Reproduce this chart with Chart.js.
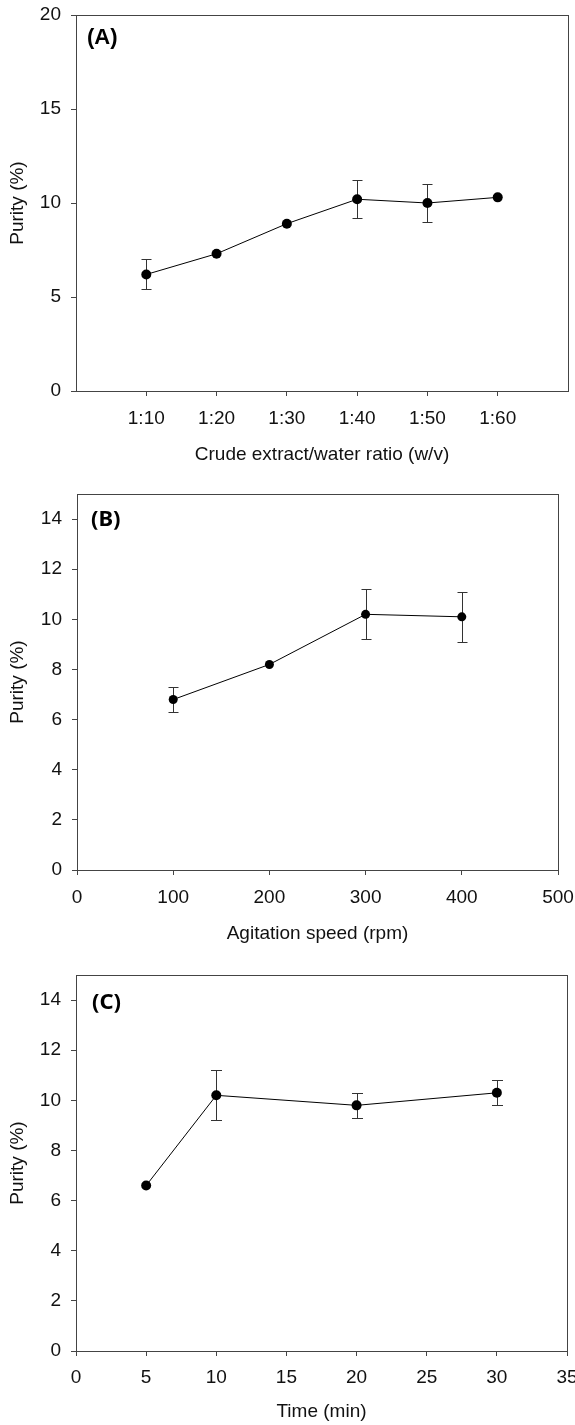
<!DOCTYPE html>
<html>
<head>
<meta charset="utf-8">
<script src="https://cdn.jsdelivr.net/npm/chart.js@4"></script>
<style>
  body { margin: 0; background: #fff; }
  canvas { position: absolute; left: 0; }
</style>
</head>
<body>
<canvas id="chartA" width="575" height="470" style="top:0px"></canvas>
<canvas id="chartB" width="575" height="490" style="top:470px"></canvas>
<canvas id="chartC" width="575" height="465" style="top:960px"></canvas>
<script>
// (A) crude extract / water ratio
const ratioLabels = ['1:10', '1:20', '1:30', '1:40', '1:50', '1:60'];
const ratioPurity = [6.2, 7.3, 8.9, 10.2, 10.0, 10.3];
const ratioErr = [0.8, 0, 0, 1.0, 1.0, 0];

// (B) agitation speed
const speedRpm = [100, 200, 300, 400];
const speedPurity = [6.8, 8.2, 10.2, 10.1];
const speedErr = [0.5, 0, 1.0, 1.0];

// (C) time
const timeMin = [5, 10, 20, 30];
const timePurity = [6.6, 10.2, 9.8, 10.3];
const timeErr = [0, 1.0, 0.5, 0.5];

// tick values
const yTicksA = [0, 5, 10, 15, 20];
const yTicksBC = [0, 2, 4, 6, 8, 10, 12, 14];
const xTicksA = [1, 2, 3, 4, 5, 6];
const xTicksB = [0, 100, 200, 300, 400, 500];
const xTicksC = [0, 5, 10, 15, 20, 25, 30, 35];

const FONT = "'Liberation Sans', Arial, sans-serif";
const AXIS = '#444';
const TEXT = '#111';

// frame, error bars and panel letter
const panelPlugin = {
  id: 'panel',
  beforeDatasetsDraw(chart, args, opts) {
    const {ctx, chartArea: a, scales: {x, y}} = chart;
    ctx.save();
    ctx.strokeStyle = AXIS;
    ctx.lineWidth = 1;
    ctx.strokeRect(a.left + 0.5, a.top + 0.5, a.right - a.left, a.bottom - a.top);

    ctx.strokeStyle = '#333';
    chart.data.datasets.forEach(ds => {
      (ds.err || []).forEach((e, i) => {
        if (!e) return;
        const p = ds.data[i];
        const px = Math.round(x.getPixelForValue(p.x)) + 0.5;
        const yt = Math.round(y.getPixelForValue(p.y + e)) + 0.5;
        const yb = Math.round(y.getPixelForValue(p.y - e)) + 0.5;
        const w = opts.cap;
        ctx.beginPath();
        ctx.moveTo(px, yt); ctx.lineTo(px, yb);
        ctx.moveTo(px - w, yt); ctx.lineTo(px + w, yt);
        ctx.moveTo(px - w, yb); ctx.lineTo(px + w, yb);
        ctx.stroke();
      });
    });

    ctx.fillStyle = '#000';
    ctx.font = opts.font;
    ctx.textBaseline = 'middle';
    ctx.textAlign = 'left';
    ctx.fillText(opts.text, a.left + opts.dx, a.top + opts.dy);
    ctx.restore();
  }
};

function makeChart(id, o) {
  const pts = o.xs.map((v, i) => ({x: v, y: o.ys[i]}));
  return new Chart(document.getElementById(id), {
    type: 'line',
    data: {
      datasets: [{
        data: pts,
        err: o.err,
        borderColor: '#000',
        borderWidth: 1,
        backgroundColor: '#000',
        pointRadius: o.r,
        pointBackgroundColor: '#000',
        pointBorderColor: '#000',
        pointBorderWidth: 0,
        tension: 0,
        showLine: true
      }]
    },
    options: {
      responsive: false,
      animation: false,
      events: [],
      layout: {padding: {left: 0, top: o.top, right: o.right, bottom: 0}},
      plugins: {
        legend: {display: false},
        tooltip: {enabled: false},
        panel: o.panel
      },
      scales: {
        x: {
          type: 'linear',
          min: o.xmin, max: o.xmax,
          afterBuildTicks: s => { s.ticks = o.xticks.map(v => ({value: v})); },
          afterFit: s => { s.height = o.xh; s.paddingLeft = 0; s.paddingRight = 0; },
          grid: {display: true, drawOnChartArea: false, tickLength: 5, tickColor: AXIS, lineWidth: 1},
          border: {display: false},
          ticks: {
            color: TEXT, font: {family: FONT, size: 19}, padding: o.xpad,
            maxRotation: 0, autoSkip: false, callback: o.xfmt
          },
          title: {
            display: true, text: o.xtitle, color: TEXT,
            font: {family: FONT, size: 19}, padding: {top: 0, bottom: o.xtpad}
          }
        },
        y: {
          min: 0, max: o.ymax,
          afterBuildTicks: s => { s.ticks = o.yticks.map(v => ({value: v})); },
          afterFit: s => { s.width = o.yw; s.paddingTop = 0; s.paddingBottom = 0; },
          grid: {display: true, drawOnChartArea: false, tickLength: 5, tickColor: AXIS, lineWidth: 1},
          border: {display: false},
          ticks: {color: TEXT, font: {family: FONT, size: 19}, padding: 10},
          title: {
            display: true, text: 'Purity (%)', color: TEXT,
            font: {family: FONT, size: 19}, padding: {top: 6, bottom: 0}
          }
        }
      }
    },
    plugins: [panelPlugin]
  });
}

makeChart('chartA', {
  xs: xTicksA, ys: ratioPurity, err: ratioErr, r: 5,
  xmin: 0, xmax: 7, xticks: xTicksA, xfmt: v => ratioLabels[v - 1],
  ymax: 20, yticks: yTicksA,
  top: 15, right: 7, yw: 76, xh: 79, xpad: 11, xtpad: 4,
  xtitle: 'Crude extract/water ratio (w/v)',
  panel: {text: '(A)', font: "bold 22px 'Liberation Sans', Arial, sans-serif", dx: 11, dy: 23, cap: 5}
});

makeChart('chartB', {
  xs: speedRpm, ys: speedPurity, err: speedErr, r: 4.5,
  xmin: 0, xmax: 500, xticks: xTicksB, xfmt: v => v,
  ymax: 15, yticks: yTicksBC,
  top: 24, right: 17, yw: 77, xh: 90, xpad: 11, xtpad: 15,
  xtitle: 'Agitation speed (rpm)',
  panel: {text: '(B)', font: "bold 22px 'Noto Sans', sans-serif", dx: 14, dy: 26, cap: 5}
});

makeChart('chartC', {
  xs: timeMin, ys: timePurity, err: timeErr, r: 5,
  xmin: 0, xmax: 35, xticks: xTicksC, xfmt: v => v,
  ymax: 15, yticks: yTicksBC,
  top: 15, right: 8, yw: 76, xh: 74, xpad: 10, xtpad: 2,
  xtitle: 'Time (min)',
  panel: {text: '(C)', font: "bold 22px 'Noto Sans', sans-serif", dx: 16, dy: 28, cap: 5.5}
});
</script>
</body>
</html>
